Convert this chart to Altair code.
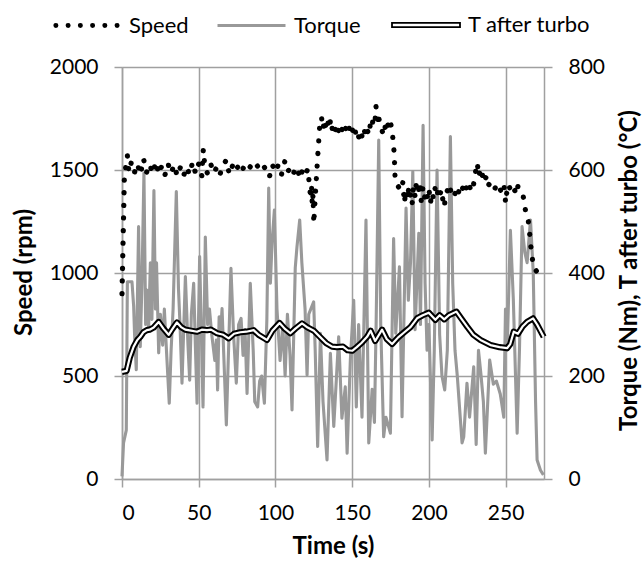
import altair as alt
import pandas as pd

FONT = "Lato"
GRID = "#a0a0a0"

# ---- data ----
speed = [
    (0, 900), (1.5, 1450), (2.5, 1520), (3.5, 1570), (4.5, 1490),
    (6, 1535), (8, 1485), (10, 1530), (12, 1478), (14, 1555), (16, 1488), (18, 1528), (20, 1482), (22, 1540), (24, 1480),
    (26, 1522), (28, 1476), (30, 1530), (32, 1484), (34, 1525), (36, 1470), (38, 1512), (40, 1468), (42, 1515), (44, 1478),
    (46, 1538), (48, 1482), (50, 1530), (52, 1472), (53, 1600), (54, 1515), (56, 1478), (58, 1525), (60, 1485), (62, 1520),
    (64, 1482), (66, 1525), (68, 1548), (70, 1478), (72, 1520), (74, 1490), (76, 1525), (78, 1495), (80, 1522), (82, 1500),
    (84, 1520), (86, 1500), (88, 1522), (90, 1500), (92, 1522), (94, 1500), (96, 1465), (98, 1525), (100, 1490), (102, 1528),
    (104, 1480), (106, 1540), (108, 1490), (110, 1520), (112, 1488), (114, 1515), (116, 1458), (118, 1510), (120, 1485), (121, 1505),
    (122, 1440), (123, 1360), (123.5, 1430), (124, 1330), (124.5, 1380), (125, 1240), (126, 1380), (127, 1500), (128, 1620), (129, 1730),
    (130, 1755), (131, 1700), (132, 1745), (133, 1705), (134, 1740), (135, 1700), (136, 1748), (137, 1700), (138, 1725), (139, 1695),
    (140, 1722), (141, 1690), (142, 1715), (143, 1688), (144, 1712), (145, 1685), (146, 1708), (147, 1682), (148, 1705), (149, 1675),
    (150, 1700), (151, 1665), (152, 1690), (153, 1650), (154, 1668), (155, 1640), (156, 1672), (157, 1650), (158, 1690), (159, 1660),
    (160, 1690), (161, 1670), (162, 1735), (163, 1715), (164, 1770), (165, 1750), (165.5, 1810), (166.5, 1745), (167, 1775), (168, 1720),
    (169, 1700), (170, 1680), (171, 1720), (172, 1695), (173, 1730), (174, 1700), (175, 1730), (176, 1690), (177, 1620), (177.5, 1560),
    (178, 1450), (179, 1430), (180, 1420), (182, 1400), (183, 1440), (184, 1340), (185, 1400), (186, 1360), (187, 1420), (188, 1380),
    (189, 1330), (190, 1420), (191, 1370), (192, 1450), (193, 1380), (194, 1440), (195, 1350), (196, 1410), (197, 1360), (198, 1400),
    (199, 1370), (200, 1410), (201, 1340), (202, 1390), (203, 1360), (204, 1410), (205, 1370), (206, 1400), (207, 1370), (208, 1405),
    (209, 1360), (210, 1320), (211, 1380), (212, 1400), (213, 1375), (214, 1405), (215, 1380), (216, 1400), (217, 1385), (218, 1410),
    (219, 1385), (220, 1410), (221, 1390), (222, 1412), (223, 1390), (224, 1420), (225, 1400), (226, 1430), (227, 1410), (228, 1440),
    (229, 1425), (230, 1475), (231.5, 1535), (232.5, 1470), (233.5, 1500), (234.5, 1465), (235.5, 1490), (236.5, 1455), (238, 1475), (239, 1430),
    (240, 1425), (241, 1410), (242, 1425), (243, 1410), (244, 1425), (245, 1405), (246, 1415), (247, 1395), (248, 1385), (249, 1420),
    (250, 1340), (251, 1410), (252, 1430), (253, 1405), (254, 1420), (255, 1395), (256, 1400), (257, 1380), (258, 1420), (259.5, 1400),
    (261, 1390), (262, 1350), (263, 1300), (264.5, 1270), (265.5, 1210), (266, 1150), (267, 1100), (268, 1030), (270, 1010), (271.5, 1000),
]

torque = [
    (0, 5), (1, 70), (2.8, 95), (3.5, 383), (6.5, 383), (7.6, 335), (8.2, 280), (9.3, 212), (10.8, 490), (11.9, 257),
    (13, 380), (14.3, 594), (15.4, 300), (16.2, 367), (17.3, 290), (18.5, 420), (19.5, 310), (20.8, 560), (21.8, 330), (22.5, 420),
    (23.9, 245), (25, 320), (26.5, 260), (27.6, 330), (29.3, 231), (30.8, 147), (32, 250), (33.3, 330), (35.4, 558), (36.8, 370),
    (37.8, 300), (39.1, 186), (41.3, 393), (43, 260), (44.1, 192), (45.2, 320), (46.7, 380), (47.8, 260), (48.9, 147), (50.6, 432),
    (52.8, 140), (54.3, 470), (55.8, 300), (57, 330), (58.5, 280), (60.5, 230), (61.5, 270), (62.3, 173), (63.3, 315), (64.2, 280),
    (65.2, 331), (68, 105), (71, 409), (72.7, 280), (74.5, 186), (76, 300), (77.6, 312), (78.9, 240), (80.2, 290), (81.5, 166),
    (83.6, 380), (85.5, 250), (86.5, 150), (88.4, 140), (89.7, 190), (91, 200), (92.8, 147), (94.4, 310), (95.6, 565), (96.7, 380),
    (97.8, 460), (99.3, 522), (101, 330), (103, 230), (104.8, 300), (106.3, 200), (107.8, 320), (109.5, 240), (110.8, 134), (112.9, 410),
    (114, 450), (115.8, 503), (117.2, 420), (119.3, 330), (120.6, 202), (121.7, 320), (124.9, 344), (125.9, 250), (127.5, 63), (129.3, 283),
    (131, 150), (133.6, 37), (135.8, 244), (138, 102), (141.2, 276), (143.3, 118), (145.5, 179), (146.7, 50), (148.8, 231), (151, 347),
    (152.7, 140), (154.2, 300), (156.4, 120), (159, 503), (160.8, 70), (163, 174), (164.5, 110), (165.6, 300), (167.3, 658), (168.6, 300),
    (170.5, 82), (172, 120), (174.9, 89), (177, 467), (178.4, 283), (180.8, 412), (182.5, 121), (185.1, 526), (186.6, 347), (188, 420),
    (189.5, 597), (191, 290), (193.4, 477), (194.5, 300), (196.2, 687), (197.5, 380), (198.8, 250), (200, 300), (202.1, 76), (203.5, 250),
    (205.3, 600), (207, 280), (208.5, 200), (210.3, 173), (212, 250), (214, 665), (215.5, 380), (217, 250), (218.5, 200), (221.6, 70),
    (222.7, 82), (224.8, 186), (226.5, 120), (229.2, 218), (230.8, 67), (232.3, 250), (234, 200), (235.5, 150), (236.8, 50), (239.6, 231),
    (242, 184), (244, 190), (246.5, 165), (248.8, 120), (249.9, 330), (251, 250), (253.1, 483), (255, 350), (257.5, 89), (259, 250),
    (260.7, 490), (262.5, 440), (264, 420), (266.2, 503), (268, 400), (269.5, 150), (270.5, 37), (272.7, 17), (274.6, 8),
]

t_turbo = [
    (0, 208), (3, 210), (5, 235), (7.6, 257), (10, 270), (11.9, 276), (14, 285), (16.2, 289), (18, 290), (20.6, 294),
    (23.9, 305), (27, 292), (30.4, 280), (33, 292), (35.8, 304), (38.5, 295), (41.2, 290), (45, 288), (48.9, 286), (52, 290),
    (55.4, 289), (58, 290), (62, 283), (66, 280), (69.5, 273), (73, 282), (77.1, 285), (81, 286), (85.8, 289), (89, 280),
    (94.5, 270), (98, 288), (102.7, 303), (106, 292), (109.7, 283), (113, 292), (117.3, 302), (121, 294), (125, 288), (129, 276),
    (133, 264), (136.9, 257), (140, 256), (144, 257), (147, 250), (150, 249), (153, 256), (156, 264), (159.7, 276), (162, 288),
    (165, 268), (169.5, 290), (172.5, 272), (176, 262), (180, 275), (184, 285), (188, 295), (192.3, 312), (196, 318), (199.9, 323),
    (204.2, 309), (207, 318), (210, 310), (213, 318), (217.9, 325), (221, 312), (224.9, 296), (229, 280), (233.6, 270), (240.1, 260),
    (246, 256), (251, 254), (253, 262), (255.3, 286), (258, 282), (261, 296), (264, 305), (267.9, 312), (270.5, 300), (274.8, 276),
]

x_ticks = [0, 50, 100, 150, 200, 250]
left_ticks = [0, 500, 1000, 1500, 2000]
right_ticks = [0, 200, 400, 600, 800]


def frame(rows, name):
    d = pd.DataFrame(rows, columns=["t", "v"])
    d["series"] = name
    return d


df_speed = frame(speed, "Speed")
df_torque = frame(torque, "Torque")
df_temp = frame(t_turbo, "T after turbo")


# legend glyph shapes (unit coordinates, scaled by the legend symbol size)
def dots_path(n=6, span=0.9, r=0.035):
    xs = [-span + i * 2 * span / (n - 1) for i in range(n)]
    return "".join(
        f"M{x - r:.4f},0a{r},{r} 0 1,0 {2 * r},0a{r},{r} 0 1,0 {-2 * r},0" for x in xs
    )


DOUBLE_PATH = "M-1,-0.06H1V0.06H-1Z"
SYM = 4624  # 68 px long legend glyphs
LEG_Y = -77


def make_legend(x, **kw):
    return alt.Legend(
        orient="none", legendX=x, legendY=LEG_Y, title=None, padding=0,
        labelFont=FONT, labelFontSize=22, labelColor="#000000", labelOffset=7,
        symbolSize=SYM, **kw,
    )


x_axis = alt.Axis(
    values=x_ticks, title="Time (s)", grid=True, gridColor=GRID, gridWidth=1.5,
    domainColor=GRID, domainWidth=1.5, tickColor=GRID, tickSize=8, tickWidth=1.5,
    labelFont=FONT, labelFontSize=21, labelColor="#000000", labelPadding=15,
    titleFont=FONT, titleFontSize=24, titleFontWeight="bold", titleColor="#000000",
    titleBaseline="top", titleY=55,
)
x_enc = alt.X("t:Q", scale=alt.Scale(domain=[0, 275], nice=False, zero=False), axis=x_axis)

right_axis = alt.Axis(
    orient="right", values=right_ticks, title="Torque (Nm), T after turbo (°C)", grid=False,
    domainColor=GRID, domainWidth=1.5, tickColor=GRID, tickSize=8, tickWidth=1.5,
    labelFont=FONT, labelFontSize=21, labelColor="#000000", labelPadding=16,
    titleFont=FONT, titleFontSize=24, titleFontWeight="bold", titleColor="#000000",
    titleAngle=270, titleX=97, titleY=203, titleBaseline="bottom", titleAlign="center",
)
y_right = alt.Y("v:Q", scale=alt.Scale(domain=[0, 800], nice=False), axis=right_axis)

left_axis = alt.Axis(
    orient="left", values=left_ticks, format="d", title="Speed (rpm)", grid=True, gridColor=GRID, gridWidth=1.5,
    domainColor=GRID, domainWidth=1.5, tickColor=GRID, tickSize=8, tickWidth=1.5,
    labelFont=FONT, labelFontSize=21, labelColor="#000000", labelPadding=16,
    titleFont=FONT, titleFontSize=24, titleFontWeight="bold", titleColor="#000000",
    titleAngle=270, titleX=-86, titleY=205, titleBaseline="bottom", titleAlign="center",
)
y_left = alt.Y("v:Q", scale=alt.Scale(domain=[0, 2000], nice=False), axis=left_axis)

torque_line = alt.Chart(df_torque).mark_line(strokeJoin="round").encode(
    x=x_enc, y=y_right,
    color=alt.Color("series:N", scale=alt.Scale(domain=["Torque"], range=["#999999"]),
                    legend=make_legend(94, symbolType="stroke", symbolStrokeWidth=3)),
    strokeWidth=alt.value(3.1),
)
temp_outer = alt.Chart(df_temp).mark_line(strokeJoin="round").encode(
    x=x_enc, y=y_right,
    color=alt.Color("series:N", scale=alt.Scale(domain=["T after turbo"], range=["#000000"]),
                    legend=make_legend(269, symbolType=DOUBLE_PATH, symbolStrokeWidth=1.8,
                                       symbolFillColor="#ffffff")),
    strokeWidth=alt.value(6.2),
)
temp_inner = alt.Chart(df_temp).mark_line(strokeJoin="round").encode(
    x=x_enc, y=y_right, color=alt.value("#ffffff"), strokeWidth=alt.value(2.2),
)
right_group = alt.layer(torque_line, temp_outer, temp_inner).resolve_scale(color="independent")

speed_line = alt.Chart(df_speed).mark_line(strokeCap="round", strokeJoin="round").encode(
    x=x_enc, y=y_left,
    color=alt.Color("series:N", scale=alt.Scale(domain=["Speed"], range=["#000000"]),
                    legend=make_legend(-71, symbolType=dots_path(), symbolStrokeWidth=2.6,
                                       symbolFillColor="#000000")),
    strokeWidth=alt.value(5.2),
    strokeDash=alt.value([0.1, 12.5]),
)

chart = alt.layer(right_group, speed_line).resolve_scale(
    y="independent", color="independent"
).properties(
    width=422, height=412,
    autosize=alt.AutoSizeParams(type="none"),
    padding={"left": 122, "top": 67, "right": 98, "bottom": 83},
).configure_view(stroke=None).configure(background="#ffffff")

chart.save("out.html", embed_options={"renderer": "svg", "actions": False})
